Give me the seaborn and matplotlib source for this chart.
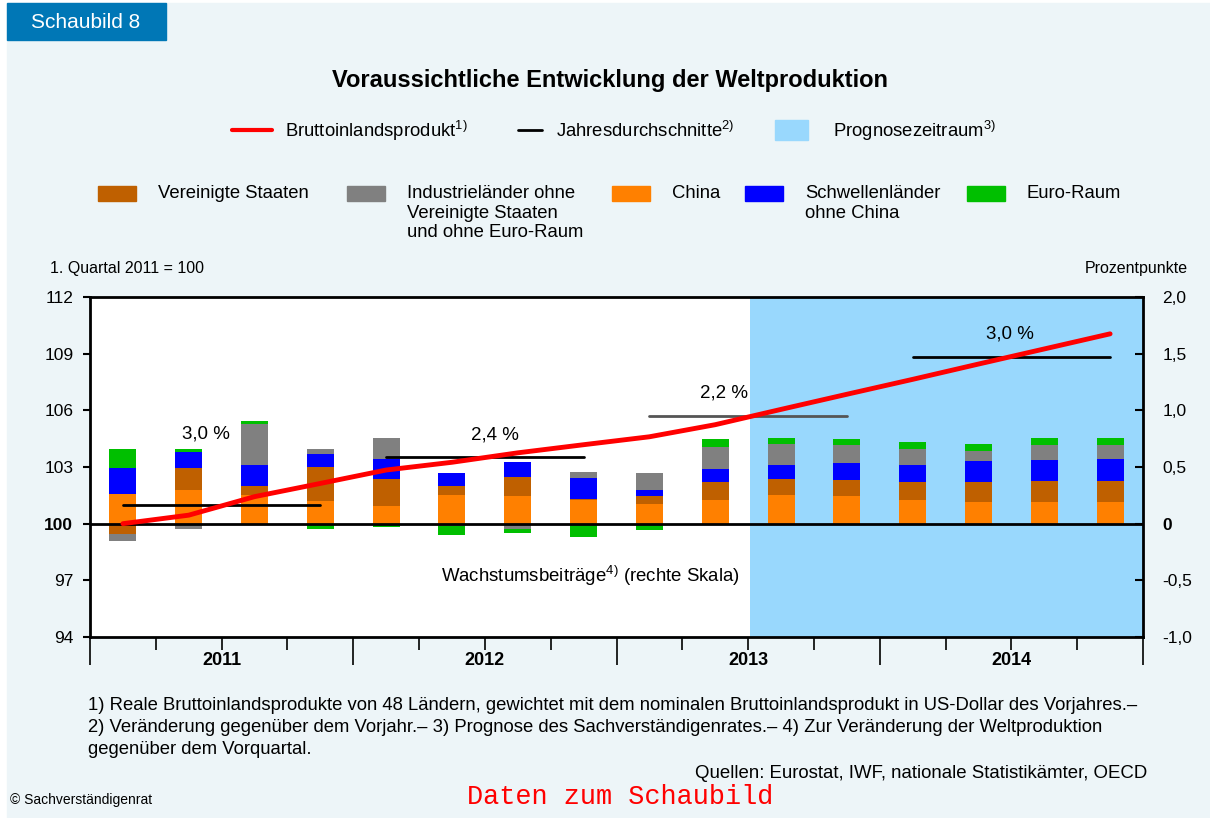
import numpy as np
import pandas as pd
import seaborn as sns
import matplotlib.pyplot as plt
import matplotlib.transforms as mtransforms
from matplotlib.patches import Rectangle
from matplotlib.lines import Line2D

# Daten
quarters = ["2011 Q1", "2011 Q2", "2011 Q3", "2011 Q4",
            "2012 Q1", "2012 Q2", "2012 Q3", "2012 Q4",
            "2013 Q1", "2013 Q2", "2013 Q3", "2013 Q4",
            "2014 Q1", "2014 Q2", "2014 Q3", "2014 Q4"]
years = ["2011", "2012", "2013", "2014"]
gdp = [100.0, 100.45, 101.43, 102.13, 102.84, 103.25, 103.75, 104.18,
       104.6, 105.24, 106.05, 106.85, 107.64, 108.45, 109.25, 110.05]
china = [0.26, 0.295, 0.25, 0.20, 0.16, 0.25, 0.24, 0.21,
         0.17, 0.21, 0.25, 0.245, 0.21, 0.19, 0.19, 0.19]
usa = [-0.09, 0.195, 0.08, 0.30, 0.23, 0.08, 0.17, 0.005,
       0.07, 0.16, 0.14, 0.14, 0.16, 0.18, 0.19, 0.19]
emerging = [0.23, 0.14, 0.19, 0.115, 0.18, 0.12, 0.13, 0.19,
            0.06, 0.115, 0.13, 0.15, 0.15, 0.18, 0.18, 0.19]
industrial = [-0.06, -0.05, 0.36, 0.045, 0.19, -0.02, -0.05, 0.05,
              0.15, 0.19, 0.18, 0.16, 0.14, 0.09, 0.13, 0.12]
euro = [0.17, 0.03, 0.03, -0.05, -0.03, -0.08, -0.035, -0.12,
        -0.055, 0.07, 0.053, 0.053, 0.06, 0.06, 0.07, 0.07]
growth_labels = ["3,0 %", "2,4 %", "2,2 %", "3,0 %"]
forecast_start = 10  # 2013 Q3

# layout
W, H = 1210, 818
BG = "#EDF5F8"
SKY = "#99D8FD"
label_pos = [(1.26, 104.75), (5.65, 104.7), (9.13, 106.9), (13.48, 110.05)]

sns.set_theme(style="white")
plt.rcParams['font.family'] = ['Liberation Sans', 'DejaVu Sans']
plt.rcParams['mathtext.fontset'] = 'custom'
plt.rcParams['mathtext.rm'] = 'Liberation Sans'
plt.rcParams['text.color'] = 'black'
plt.rcParams['xtick.color'] = 'black'
plt.rcParams['ytick.color'] = 'black'

df = pd.DataFrame({"China": china, "Vereinigte Staaten": usa,
                   "Schwellenländer": emerging, "Industrieländer": industrial,
                   "Euro-Raum": euro}, index=quarters)
colors = {"China": "#FF8000", "Vereinigte Staaten": "#BF6000",
          "Schwellenländer": "#0000FF", "Industrieländer": "#808080",
          "Euro-Raum": "#00BF00"}

fig = plt.figure(figsize=(W / 100, H / 100), dpi=100, facecolor="white")
fig.patches.append(Rectangle((7 / W, 0), 1, 1 - 3 / H, transform=fig.transFigure,
                             color=BG, zorder=-10))

def px(x, y):
    return x / W, 1 - y / H

ax = fig.add_axes([90 / W, 1 - 637 / H, (1143 - 90) / W, (637 - 297) / H])
ax.set_facecolor("white")
ax2 = ax.twinx()

x = np.arange(len(quarters))

## stacked contributions (right scale)
pos = np.zeros(len(x))
neg = np.zeros(len(x))
for name in df.columns:
    vals = df[name].values
    bottom = np.where(vals >= 0, pos, neg)
    ax.bar(x, vals, width=0.41, bottom=bottom, color=colors[name], linewidth=0, zorder=2)
    pos += np.clip(vals, 0, None)
    neg += np.clip(vals, None, 0)

ax.axvspan(forecast_start - 0.47, len(x) - 0.5, color=SKY, lw=0, zorder=0)
ax.axhline(0, color="black", lw=2, zorder=3)
ax.set_xlim(-0.5, len(x) - 0.5)
ax.set_ylim(-1, 2)

## GDP line (left scale)
sns.lineplot(x=x, y=gdp, ax=ax2, color="#FF0000", lw=3.5, zorder=5)
for k, yr in enumerate(years):
    avg = np.mean(gdp[4 * k:4 * k + 4])
    c = "#555555" if yr == "2013" else "black"
    ax2.plot([4 * k, 4 * k + 3], [avg, avg], color=c, lw=2, zorder=4)
    ax2.text(label_pos[k][0], label_pos[k][1], growth_labels[k], ha="center",
             va="center", fontsize=13.5)
ax2.set_ylim(94, 112)
ax2.set_xlim(-0.5, len(x) - 0.5)
ax2.set_xlabel("")
ax2.set_ylabel("")

## axes styling
ax.yaxis.tick_right()
ax2.yaxis.tick_left()
for s in ax.spines.values():
    s.set_visible(True)
    s.set_color("black")
    s.set_linewidth(2)
for s in ax2.spines.values():
    s.set_visible(False)

rticks = [-1, -0.5, 0, 0.5, 1, 1.5, 2]
ax.set_yticks(rticks)
ax.set_yticklabels([("%.1f" % t).replace(".", ",") if t != 0 else "0" for t in rticks])
ax.tick_params(axis="y", which="major", direction="in", length=6, width=1.5,
               pad=14, labelsize=12.5, right=True, left=False)
for lab in ax.get_yticklabels():
    if lab.get_text() == "0":
        lab.set_fontweight("bold")

lticks = list(range(94, 113, 3))
ax2.set_yticks(lticks)
ax2.set_yticklabels([str(t) for t in lticks])
ax2.tick_params(axis="y", direction="out", length=5, width=1.5, pad=7,
                labelsize=12.5, left=True, right=False)
for lab in ax2.get_yticklabels():
    if lab.get_text() == "100":
        lab.set_fontweight("bold")

ax.set_xticks(np.arange(-0.5, len(x), 4))
ax.set_xticks(np.arange(-0.5, len(x), 1), minor=True)
ax.tick_params(axis="x", which="major", direction="out", length=20, width=1.2,
               labelbottom=False, bottom=True)
ax.tick_params(axis="x", which="minor", direction="out", length=9, width=1.2,
               bottom=True)
trans = mtransforms.blended_transform_factory(ax.transData, ax.transAxes)
for k, yr in enumerate(years):
    ax.text(4 * k + 1.5, -0.07, yr, transform=trans, ha="center", va="center",
            fontsize=13, fontweight="bold")

ax.text(590 / W, -0.46, r"Wachstumsbeiträge$^{\mathregular{4)}}$ (rechte Skala)",
        transform=mtransforms.blended_transform_factory(fig.transFigure, ax.transData),
        ha="center", va="center", fontsize=13.4, zorder=6)

## header and titles
fig.patches.append(Rectangle(px(7, 40), 159 / W, 37 / H, transform=fig.transFigure,
                             color="#0077B6", zorder=1))
fig.text(*px(86, 22), "Schaubild 8", color="white", fontsize=15, ha="center", va="center")
fig.text(*px(610, 80), "Voraussichtliche Entwicklung der Weltproduktion",
         fontsize=17, fontweight="bold", ha="center", va="center")

## legend row 1
fs = 13.3
fig.lines.append(Line2D([232 / W, 272 / W], [1 - 130 / H] * 2, color="#FF0000", lw=3,
                        transform=fig.transFigure))
fig.text(*px(285, 131), r"Bruttoinlandsprodukt$^{\mathregular{1)}}$", fontsize=fs, va="center")
fig.lines.append(Line2D([518 / W, 542 / W], [1 - 130 / H] * 2, color="black", lw=2,
                        transform=fig.transFigure))
fig.text(*px(556, 131), r"Jahresdurchschnitte$^{\mathregular{2)}}$", fontsize=fs, va="center")
fig.patches.append(Rectangle(px(775, 140), 33 / W, 20 / H, transform=fig.transFigure,
                             color=SKY))
fig.text(*px(833, 131), r"Prognosezeitraum$^{\mathregular{3)}}$", fontsize=fs, va="center")

## legend row 2
leg2 = [(98, "Vereinigte Staaten", "Vereinigte Staaten"),
        (347, "Industrieländer", "Industrieländer ohne\nVereinigte Staaten\nund ohne Euro-Raum"),
        (612, "China", "China"),
        (745, "Schwellenländer", "Schwellenländer\nohne China"),
        (967, "Euro-Raum", "Euro-Raum")]
for xp, key, text in leg2:
    fig.patches.append(Rectangle(px(xp, 201), 38 / W, 15 / H, transform=fig.transFigure,
                                 color=colors[key]))
    fig.text(*px(xp + 60, 185), text, fontsize=fs, va="top", linespacing=1.2)

fig.text(*px(50, 268), "1. Quartal 2011 = 100", fontsize=11.5, va="center")
fig.text(*px(1188, 268), "Prozentpunkte", fontsize=11.5, va="center", ha="right")

## footnotes
notes = ["1) Reale Bruttoinlandsprodukte von 48 Ländern, gewichtet mit dem nominalen Bruttoinlandsprodukt in US-Dollar des Vorjahres.–",
         "2) Veränderung gegenüber dem Vorjahr.– 3) Prognose des Sachverständigenrates.– 4) Zur Veränderung der Weltproduktion",
         "gegenüber dem Vorquartal."]
for i, n in enumerate(notes):
    fig.text(*px(88, 705 + 22 * i), n, fontsize=13.3, va="center")
fig.text(*px(1147, 773), "Quellen: Eurostat, IWF, nationale Statistikämter, OECD",
         fontsize=13.4, va="center", ha="right")
fig.text(*px(10, 800), "© Sachverständigenrat", fontsize=10, va="center")
fig.text(*px(620, 797), "Daten zum Schaubild", fontsize=19.4, va="center", ha="center",
         color="#FF0000", family="Liberation Mono")

fig.savefig("out.png", dpi=100, facecolor=fig.get_facecolor())
